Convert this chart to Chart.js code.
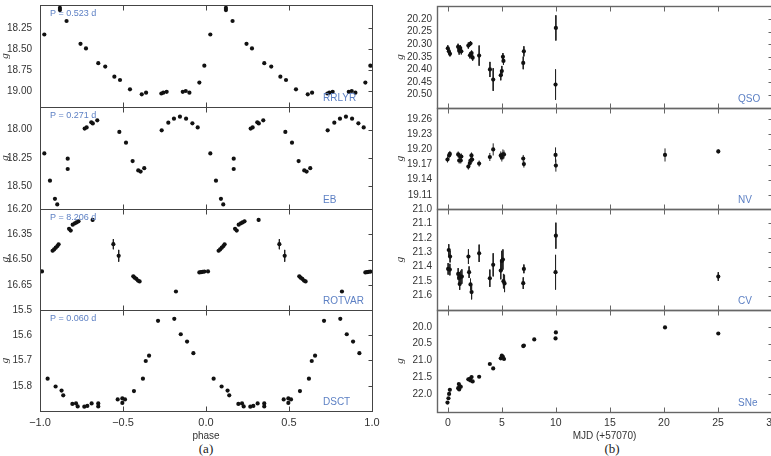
<!DOCTYPE html>
<html><head><meta charset="utf-8">
<script src="https://cdn.jsdelivr.net/npm/chart.js@4"></script>
<style>
html,body{margin:0;padding:0;background:#fff}
body{width:771px;height:456px;overflow:hidden;position:relative}
canvas{position:absolute}
.cap{position:absolute;font-family:"Liberation Serif","Times New Roman",serif;font-size:13px;line-height:13px;color:#222;transform:translateX(-50%)}
</style></head><body>
<div class="cap" style="left:206px;top:442px">(a)</div>
<div class="cap" style="left:612px;top:442px">(b)</div>
<script>
// ---------- DATA ----------
// phase-folded light curves (phase in [0,1), plotted at phase-1 and phase)
const rrlyrPhase = [0.026,0.12,0.12,0.16,0.244,0.277,0.351,0.393,0.448,0.482,0.542,0.613,0.639,0.731,0.743,0.763,0.86,0.878,0.90,0.96,0.99];
const rrlyrMag   = [18.33,18.015,18.04,18.17,18.44,18.495,18.67,18.71,18.83,18.87,18.98,19.04,19.02,19.03,19.02,19.01,19.01,19.00,19.02,18.90,18.70];

const ebPhase = [0.026,0.06,0.09,0.104,0.167,0.167,0.269,0.281,0.309,0.318,0.345,0.478,0.518,0.558,0.592,0.606,0.628,0.733,0.773,0.807,0.843,0.88,0.918,0.95];
const ebMag   = [18.21,18.45,18.61,18.66,18.256,18.347,17.99,17.98,17.935,17.945,17.918,18.02,18.115,18.277,18.36,18.37,18.34,18.006,17.938,17.903,17.885,17.903,17.944,17.98];

const rotPhase = [0.012,0.076,0.085,0.095,0.105,0.112,0.175,0.185,0.197,0.21,0.22,0.232,0.317,0.442,0.474,0.562,0.57,0.58,0.59,0.60,0.819,0.96,0.97,0.98,0.99];
const rotMag   = [16.571,16.448,16.44,16.43,16.42,16.41,16.318,16.328,16.293,16.285,16.28,16.273,16.265,16.409,16.478,16.60,16.608,16.615,16.625,16.63,16.69,16.577,16.575,16.573,16.572];
const rotErr   = [0.008,0.008,0.008,0.008,0.008,0.008,0.008,0.008,0.008,0.008,0.008,0.008,0.01,0.03,0.035,0.008,0.008,0.008,0.008,0.008,0.006,0.008,0.008,0.008,0.008];

const dsctPhase = [0.046,0.094,0.13,0.14,0.195,0.217,0.227,0.267,0.285,0.311,0.351,0.351,0.468,0.496,0.496,0.512,0.566,0.62,0.637,0.657,0.711,0.809,0.848,0.886,0.924];
const dsctMag   = [15.772,15.803,15.819,15.838,15.872,15.87,15.882,15.883,15.88,15.87,15.87,15.882,15.854,15.85,15.868,15.854,15.821,15.772,15.702,15.681,15.543,15.535,15.596,15.625,15.671];

// time series, MJD - 57070
const qsoMjd = [0.0,0.1,0.2,0.95,1.05,1.15,1.25,1.9,2.1,2.05,2.2,2.3,2.9,3.9,4.2,4.9,5.0,5.1,5.15,6.98,7.04,10.0,9.97];
const qsoMag = [20.316,20.328,20.338,20.31,20.326,20.315,20.328,20.305,20.297,20.344,20.335,20.353,20.345,20.40,20.44,20.423,20.406,20.35,20.366,20.374,20.328,20.235,20.46];
const qsoErr = [0.012,0.01,0.01,0.012,0.015,0.012,0.012,0.012,0.01,0.012,0.01,0.012,0.04,0.03,0.045,0.02,0.02,0.015,0.015,0.025,0.02,0.05,0.06];

const nvMjd = [-0.03,0.12,0.19,0.96,1.05,1.1,1.2,1.25,1.9,2.04,2.1,2.19,2.25,2.9,3.89,4.2,4.9,5.0,5.1,5.2,6.98,7.04,9.97,10.0,20.1,25.03];
const nvMag = [19.18,19.188,19.191,19.19,19.178,19.187,19.178,19.186,19.166,19.173,19.178,19.188,19.18,19.172,19.185,19.20,19.188,19.184,19.19,19.19,19.182,19.171,19.189,19.168,19.189,19.196];
const nvErr = [0.006,0.006,0.006,0.006,0.006,0.006,0.006,0.006,0.006,0.006,0.006,0.006,0.006,0.006,0.008,0.012,0.008,0.008,0.01,0.008,0.007,0.007,0.015,0.012,0.013,0.004];

const cvMjd = [0.03,0.09,0.19,0.21,0.96,1.05,1.1,1.17,1.3,1.91,1.97,2.1,2.2,2.9,3.89,4.2,4.9,5.0,5.1,5.15,5.25,6.98,7.04,10.0,9.97,25.03];
const cvMag = [21.415,21.284,21.42,21.33,21.45,21.477,21.52,21.468,21.468,21.33,21.438,21.523,21.576,21.307,21.48,21.387,21.427,21.36,21.35,21.5,21.516,21.514,21.415,21.185,21.438,21.468];
const cvErr = [0.04,0.04,0.04,0.04,0.04,0.04,0.04,0.04,0.05,0.05,0.04,0.04,0.05,0.06,0.06,0.08,0.06,0.07,0.07,0.05,0.06,0.04,0.03,0.09,0.12,0.03];

const snMjd = [-0.03,0.06,0.12,0.19,0.96,1.02,1.05,1.1,1.2,1.9,2.05,2.1,2.2,2.3,2.9,3.89,4.2,4.9,5.0,5.1,5.2,6.98,7.04,8.0,9.97,10.0,20.1,25.03];
const snMag = [22.26,22.13,22.0,21.88,21.83,21.705,21.87,21.77,21.79,21.565,21.55,21.6,21.5,21.63,21.49,21.11,21.24,20.94,20.86,20.9,20.96,20.574,20.56,20.376,20.347,20.168,20.02,20.20];

// tick labels
const phaseTickLabels = ['\u22121.0','\u22120.5','0.0','0.5','1.0'];
const mjdTickLabels = ['0','5','10','15','20','25','30'];
const rrlyrTicks = ['18.25','18.50','18.75','19.00'];
const ebTicks = ['18.00','18.25','18.50'];
const rotTicks = ['16.20','16.35','16.50','16.65'];
const dsctTicks = ['15.5','15.6','15.7','15.8'];
const qsoTicks = ['20.20','20.25','20.30','20.35','20.40','20.45','20.50'];
const nvTicks = ['19.11','19.14','19.17','19.20','19.23','19.26'];
const cvTicks = ['21.0','21.1','21.2','21.3','21.4','21.5','21.6'];
const snTicks = ['20.0','20.5','21.0','21.5','22.0'];

// ---------- DRAWING ----------
const SANS = '"Liberation Sans", Arial, sans-serif';
const BLUE = '#5d80c4';

function mkCanvas(left, top, w, h){
  const c = document.createElement('canvas');
  c.width = w; c.height = h;
  c.style.left = left + 'px'; c.style.top = top + 'px';
  c.style.width = w + 'px'; c.style.height = h + 'px';
  document.body.appendChild(c);
  return c;
}

function fold(ph, mag, err){
  const pts = [], bars = [];
  [-1, 0].forEach(s => ph.forEach((p, i) => {
    pts.push({x: p + s, y: mag[i]});
    if (err) bars.push({x: p + s, y: mag[i] - err[i]}, {x: p + s, y: mag[i] + err[i]}, {x: p + s, y: null});
  }));
  return {pts, bars};
}
function series(xs, mag, err){
  const pts = [], bars = [];
  xs.forEach((x, i) => {
    pts.push({x, y: mag[i]});
    if (err) bars.push({x, y: mag[i] - err[i]}, {x, y: mag[i] + err[i]}, {x, y: null});
  });
  return {pts, bars};
}

function panel(o){
  const pad = 18;
  const isBottom = !!o.xTitle;
  const h = pad + o.h + (isBottom ? o.xAxisH : pad);
  const canvas = mkCanvas(o.left, o.top - pad, o.axisW + o.plotW + o.padR, h);
  const yVals = o.yLabels.map(parseFloat);
  const frame = {
    id: 'frame',
    afterDraw(chart){
      const {ctx, chartArea: a, scales: {x, y}} = chart;
      const L = Math.round(a.left) + 0.5, R = Math.round(a.right) + 0.5;
      const T = Math.round(a.top) + 0.5, B = Math.round(a.bottom) + 0.5;
      ctx.save();
      ctx.strokeStyle = o.frameColor; ctx.lineWidth = o.frameW;
      ctx.strokeRect(L, T, R - L, B - T);
      ctx.beginPath();
      o.xTicks.forEach(v => {
        if (v <= o.xMin || v >= o.xMax) return;
        const px = Math.round(x.getPixelForValue(v)) + 0.5;
        ctx.moveTo(px, T); ctx.lineTo(px, T + 5);
        ctx.moveTo(px, B); ctx.lineTo(px, B - 5);
      });
      yVals.forEach(v => {
        const py = Math.round(y.getPixelForValue(v)) + 0.5;
        ctx.moveTo(R - 4, py); ctx.lineTo(R, py);
      });
      ctx.lineWidth = 1;
      ctx.stroke();
      ctx.fillStyle = BLUE; ctx.textBaseline = 'middle'; ctx.textAlign = 'left';
      if (o.pText){ ctx.font = '9px ' + SANS; ctx.fillText(o.pText, a.left + 10, a.top + 8.5); }
      ctx.font = '10px ' + SANS;
      ctx.fillText(o.cls, a.right - o.clsOff, a.bottom - 8.5);
      ctx.restore();
    }
  };
  new Chart(canvas, {
    type: 'scatter',
    data: {datasets: [
      {data: o.d.pts, pointRadius: 2.1, pointBackgroundColor: '#111', pointBorderWidth: 0, showLine: false},
      {type: 'line', data: o.d.bars, borderColor: '#222', borderWidth: 1, pointRadius: 0, spanGaps: false, fill: false, tension: 0}
    ]},
    options: {
      responsive: false, animation: false, events: [],
      layout: {padding: {left: 0, right: o.padR, top: pad, bottom: isBottom ? 0 : pad}},
      plugins: {legend: {display: false}, tooltip: {enabled: false}},
      scales: {
        x: {
          type: 'linear', min: o.xMin, max: o.xMax, display: isBottom,
          grid: {display: false, drawTicks: false}, border: {display: false},
          afterBuildTicks: s => { s.ticks = o.xTicks.map(v => ({value: v})); },
          afterFit: s => { if (isBottom) s.height = o.xAxisH; },
          ticks: {autoSkip: false, maxRotation: 0, minRotation: 0, padding: 5, color: '#333',
                  font: {family: SANS, size: o.xFont}, callback: (v, i) => o.xLabels[i]},
          title: {display: isBottom, text: o.xTitle || '', color: '#333', font: {family: SANS, size: 10}, padding: {top: 0, bottom: 14}}
        },
        y: {
          type: 'linear', min: o.yMin, max: o.yMax, reverse: o.reverse, position: 'left',
          grid: {display: false, drawTicks: false}, border: {display: false},
          afterBuildTicks: s => { s.ticks = yVals.map(v => ({value: v})); },
          afterFit: s => { s.width = o.axisW; },
          ticks: {autoSkip: false, padding: o.yPad, color: '#333', font: {family: SANS, size: 10},
                  callback: (v, i) => o.yLabels[i]},
          title: {display: true, text: 'g', color: '#333',
                  font: {family: '"Liberation Serif", serif', style: 'italic', size: 11, lineHeight: 1}, padding: 0}
        }
      }
    },
    plugins: [frame]
  });
}

const Lc = {left: 0, axisW: 40, plotW: 332, padR: 18, xMin: -1, xMax: 1, xTicks: [-1, -0.5, 0, 0.5, 1],
           xLabels: phaseTickLabels, xFont: 11, yPad: 8, frameColor: '#444', frameW: 1, clsOff: 49, xAxisH: 45};
const Rc = {left: 395, axisW: 42, plotW: 335, padR: 28, xMin: -1, xMax: 30, xTicks: [0, 5, 10, 15, 20, 25, 30],
           xLabels: mjdTickLabels, xFont: 10.5, yPad: 5, frameColor: '#666', frameW: 1.4, clsOff: 34, xAxisH: 44};

panel({...Lc, top: 5, h: 102, yMin: 17.98, yMax: 19.19, reverse: true, yLabels: rrlyrTicks,
       d: fold(rrlyrPhase, rrlyrMag), pText: 'P = 0.523 d', cls: 'RRLYR'});
panel({...Lc, top: 107, h: 102, yMin: 17.8, yMax: 18.7, reverse: true, yLabels: ebTicks,
       d: fold(ebPhase, ebMag), pText: 'P = 0.271 d', cls: 'EB'});
panel({...Lc, top: 209, h: 101, yMin: 16.2, yMax: 16.8, reverse: true, yLabels: rotTicks,
       d: fold(rotPhase, rotMag, rotErr), pText: 'P = 8.206 d', cls: 'ROTVAR'});
panel({...Lc, top: 310, h: 101, yMin: 15.5, yMax: 15.9, reverse: true, yLabels: dsctTicks,
       d: fold(dsctPhase, dsctMag), pText: 'P = 0.060 d', cls: 'DSCT', xTitle: 'phase'});

panel({...Rc, top: 6, h: 102, yMin: 20.148, yMax: 20.553, reverse: true, yLabels: qsoTicks,
       d: series(qsoMjd, qsoMag, qsoErr), cls: 'QSO'});
panel({...Rc, top: 108, h: 101, yMin: 19.082, yMax: 19.282, reverse: false, yLabels: nvTicks,
       d: series(nvMjd, nvMag, nvErr), cls: 'NV'});
panel({...Rc, top: 209, h: 101, yMin: 21.0, yMax: 21.7, reverse: true, yLabels: cvTicks,
       d: series(cvMjd, cvMag, cvErr), cls: 'CV'});
panel({...Rc, top: 310, h: 102, yMin: 19.5, yMax: 22.54, reverse: true, yLabels: snTicks,
       d: series(snMjd, snMag), cls: 'SNe', xTitle: 'MJD (+57070)'});
</script>
</body></html>
